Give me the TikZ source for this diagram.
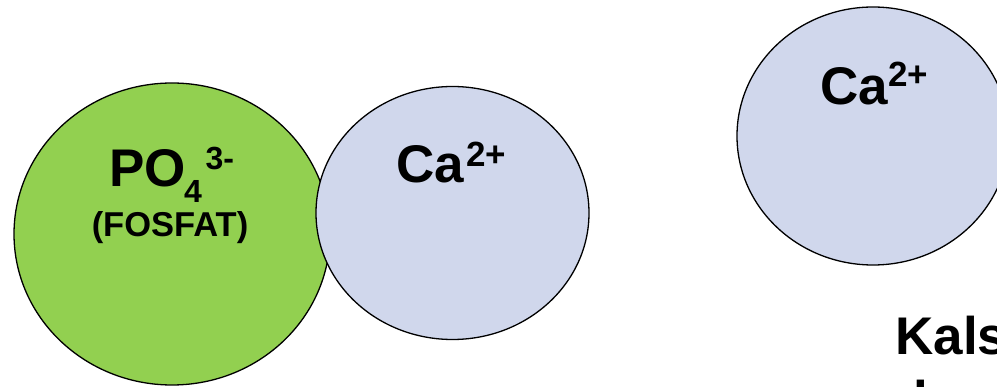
\documentclass[tikz,border=0pt]{standalone}
\usepackage{fontspec}
\setmainfont{Liberation Sans}
\usetikzlibrary{shapes.geometric}
\definecolor{phosgreen}{HTML}{92D050}
\definecolor{calblue}{HTML}{D0D7EC}
\begin{document}
\begin{tikzpicture}[x=1pt,y=-1pt,
  ion/.style={ellipse,draw=black,line width=1.3pt,inner sep=0pt,outer sep=0pt},
  lbl/.style={inner sep=0pt,outer sep=0pt,anchor=base west},
  fbig/.style={font=\bfseries\fontsize{53}{53}\selectfont},
  fmid/.style={font=\bfseries\fontsize{34.5}{34.5}\selectfont},
  fsup/.style={font=\bfseries\fontsize{32}{32}\selectfont},
  fcsup/.style={font=\bfseries\fontsize{35}{35}\selectfont}]
\useasboundingbox (0,0) rectangle (997,387);
\clip (0,0) rectangle (997,387);
% ions
\node[ion,fill=phosgreen,minimum width=316pt,minimum height=302pt] (phos) at (172,234) {};
\node[ion,fill=calblue,minimum width=273pt,minimum height=253pt] (caA) at (452.5,213) {};
\node[ion,fill=calblue,minimum width=272pt,minimum height=258pt] (caB) at (873,136) {};
% phosphate label
\node[lbl,fbig] (po) at (109,187) {PO};
\node[lbl,fsup] (posub) at (184,203) {4};
\node[lbl,fsup] (posup) at (205.5,170) {3-};
\node[inner sep=0pt,anchor=base,fmid] (fosfat) at (170,237) {(FOSFAT)};
% calcium labels
\node[lbl,fbig] (caAt) at (396,183) {Ca};
\node[lbl,fcsup] (caAs) at (466,167) {2+};
\node[lbl,fbig] (caBt) at (820,105) {Ca};
\node[lbl,fcsup] (caBs) at (888,87) {2+};
% caption (cut off by the frame)
\node[lbl,fbig] (kals) at (895.5,355) {Kals};
\node[lbl,fbig] (kals2) at (913.5,419) {l};
\end{tikzpicture}
\end{document}
